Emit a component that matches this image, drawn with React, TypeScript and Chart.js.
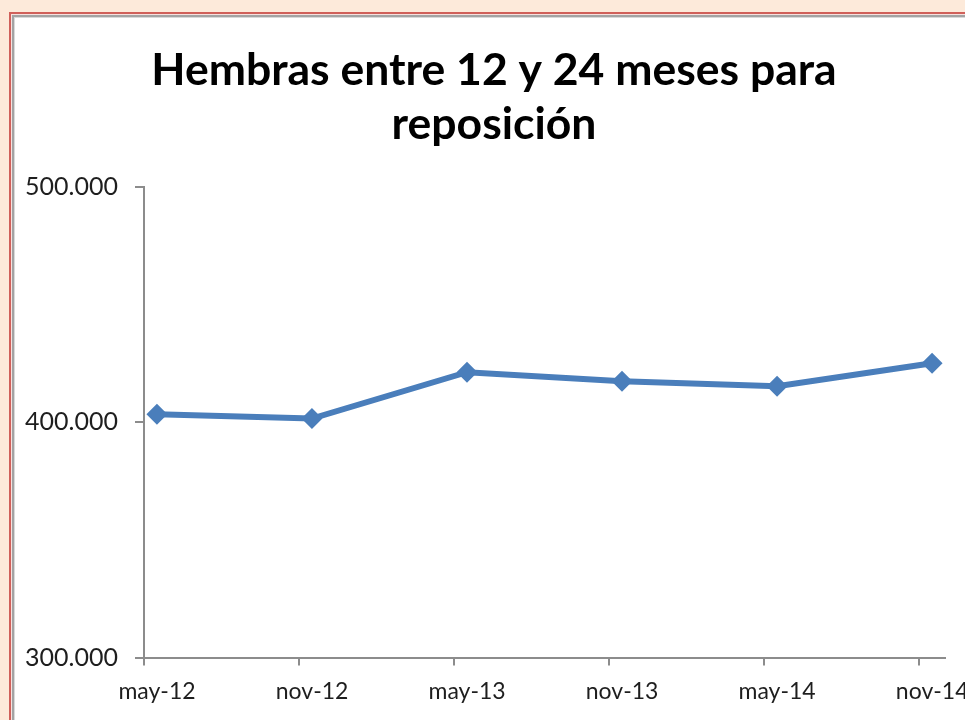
import React, { useEffect, useRef } from "react";
import { Chart, registerables } from "chart.js";

Chart.register(...registerables);

// Categories (date axis, months since May 2012) and series values
const categories = ["may-12", "nov-12", "may-13", "nov-13", "may-14", "nov-14"];
const monthOffsets = [0, 6, 12, 18, 24, 30];
const values = [403400, 401600, 421300, 417400, 415300, 425100];
const yTicks = [300000, 400000, 500000];
const titleLines = ["Hembras entre 12 y 24 meses para", "reposición"];

function formatThousands(v: number): string {
  return String(Math.round(v)).replace(/\B(?=(\d{3})+(?!\d))/g, ".");
}

export default function App() {
  const canvasRef = useRef<HTMLCanvasElement | null>(null);

  useEffect(() => {
    const prevMargin = document.body.style.margin;
    document.body.style.margin = "0";
    const canvas = canvasRef.current;
    if (!canvas) return;
    const axisColor = "#8C8C8C";
    const labelColor = "#1E1E1E";
    const chart = new Chart(canvas, {
      type: "line",
      data: {
        datasets: [
          {
            data: values.map((y, i) => ({ x: monthOffsets[i] + 0.5, y })),
            borderColor: "#4A7EBB",
            backgroundColor: "#4A7EBB",
            borderWidth: 6,
            pointStyle: "rectRot",
            pointRadius: 10.5,
            pointBorderWidth: 0,
            pointBackgroundColor: "#4A7EBB",
            tension: 0,
            fill: false,
          },
        ],
      },
      options: {
        responsive: false,
        animation: false,
        events: [],
        layout: { padding: 0 },
        plugins: {
          legend: { display: false },
          tooltip: { enabled: false },
          title: {
            display: true,
            text: titleLines,
            color: "#000000",
            font: { family: "Lato", size: 44.5, weight: "bold", lineHeight: 1.22 },
            padding: { top: 25.5, bottom: 35 },
          },
        },
        scales: {
          x: {
            type: "linear",
            min: 0,
            max: 31,
            afterBuildTicks: (s: any) => {
              s.ticks = monthOffsets.map((v) => ({ value: v }));
            },
            afterFit: (s: any) => {
              s.height = 62.5;
              s.paddingRight = 28;
            },
            grid: {
              drawOnChartArea: false,
              drawTicks: true,
              tickLength: 8,
              color: axisColor,
              lineWidth: 2,
            },
            border: { color: axisColor, width: 2 },
            ticks: {
              labelOffset: 13,
              padding: 12,
              maxRotation: 0,
              autoSkip: false,
              color: labelColor,
              font: { family: "Lato", size: 23 },
              callback: (v: any) => {
                const i = monthOffsets.indexOf(Number(v));
                return i >= 0 ? categories[i] : "";
              },
            },
          },
          y: {
            type: "linear",
            min: 300000,
            max: 500000,
            afterBuildTicks: (s: any) => {
              s.ticks = yTicks.map((v) => ({ value: v }));
            },
            afterFit: (s: any) => {
              s.width = 129;
            },
            grid: {
              drawOnChartArea: false,
              drawTicks: true,
              tickLength: 9,
              color: axisColor,
              lineWidth: 2,
            },
            border: { color: axisColor, width: 2 },
            ticks: {
              padding: 17,
              color: labelColor,
              font: { family: "Lato", size: 25 },
              callback: (v: any) => formatThousands(Number(v)),
            },
          },
        },
      },
    } as any);
    return () => {
      chart.destroy();
      document.body.style.margin = prevMargin;
    };
  }, []);

  return (
    <div
      style={{
        position: "fixed",
        left: 0,
        top: 0,
        width: 965,
        height: 720,
        overflow: "hidden",
        background: "#FDEADA",
      }}
    >
      <div
        style={{
          position: "absolute",
          left: 9,
          top: 12,
          width: 1000,
          height: 800,
          borderLeft: "2px solid #D0605A",
          borderTop: "2px solid #D0605A",
          background: "#F6E2E0",
        }}
      />
      <div
        style={{
          position: "absolute",
          left: 12,
          top: 15,
          width: 1000,
          height: 800,
          borderLeft: "2px solid #A3A3A3",
          borderTop: "2px solid #A3A3A3",
        }}
      >
        <div
          style={{
            position: "absolute",
            left: 0,
            top: 0,
            width: 998,
            height: 798,
            borderLeft: "1px solid #D9D9D9",
            borderTop: "1px solid #D9D9D9",
            background: "#FFFFFF",
          }}
        >
          <canvas
            ref={canvasRef}
            width={958}
            height={702}
            style={{ display: "block", width: 958, height: 702 }}
          />
        </div>
      </div>
    </div>
  );
}
